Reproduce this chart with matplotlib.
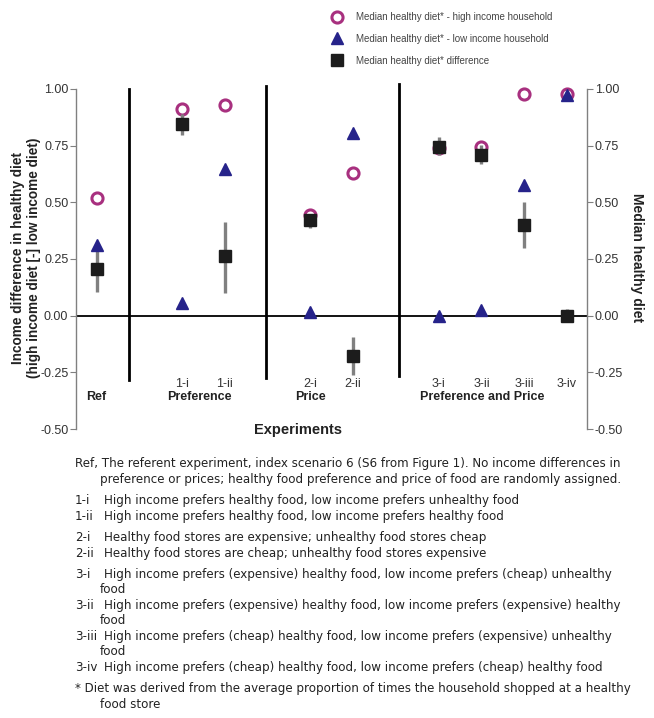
import matplotlib
matplotlib.use('Agg')
import matplotlib.pyplot as plt
import numpy as np

plt.rcParams['font.family'] = ['Liberation Sans', 'DejaVu Sans']

# experiments, positions on the x axis (groups separated by gaps)
exp_labels = ['Ref', '1-i', '1-ii', '2-i', '2-ii', '3-i', '3-ii', '3-iii', '3-iv']
exp_x = [0, 2, 3, 5, 6, 8, 9, 10, 11]

high_income = [0.52, 0.91, 0.93, 0.445, 0.63, 0.74, 0.745, 0.98, 0.98]
low_income = [0.31, 0.055, 0.645, 0.015, 0.805, 0.0, 0.025, 0.575, 0.975]
difference = [0.205, 0.845, 0.265, 0.42, -0.18, 0.745, 0.71, 0.40, 0.0]
diff_low = [0.105, 0.795, 0.10, 0.385, -0.26, 0.71, 0.67, 0.30, -0.03]
diff_high = [0.30, 0.89, 0.415, 0.45, -0.095, 0.79, 0.755, 0.50, 0.03]

group_names = ['Ref', 'Preference', 'Price', 'Preference and Price']
group_x = [0, 2.4, 5, 9.03]
dividers = [0.77, 3.97, 7.08]
divider_top = [1.0, 1.013, 1.022]
divider_bottom = [-0.284, -0.275, -0.266]

yticks = [1.0, 0.75, 0.5, 0.25, 0.0, -0.25, -0.5]

legend_labels = ['Median healthy diet* - high income household',
                 'Median healthy diet* - low income household',
                 'Median healthy diet* difference']

# (label, text, indent of text, gap before line: 1 normal, 2 new block)
notes = [
    ('', 'Ref, The referent experiment, index scenario 6 (S6 from Figure 1). No income differences in', 75, 0),
    ('', 'preference or prices; healthy food preference and price of food are randomly assigned.', 100, 1),
    ('1-i', 'High income prefers healthy food, low income prefers unhealthy food', 103.5, 2),
    ('1-ii', 'High income prefers healthy food, low income prefers healthy food', 103.5, 1),
    ('2-i', 'Healthy food stores are expensive; unhealthy food stores cheap', 103.5, 2),
    ('2-ii', 'Healthy food stores are cheap; unhealthy food stores expensive', 103.5, 1),
    ('3-i', 'High income prefers (expensive) healthy food, low income prefers (cheap) unhealthy', 103.5, 2),
    ('', 'food', 100, 1),
    ('3-ii', 'High income prefers (expensive) healthy food, low income prefers (expensive) healthy', 103.5, 1),
    ('', 'food', 100, 1),
    ('3-iii', 'High income prefers (cheap) healthy food, low income prefers (expensive) unhealthy', 103.5, 1),
    ('', 'food', 100, 1),
    ('3-iv', 'High income prefers (cheap) healthy food, low income prefers (cheap) healthy food', 103.5, 1),
    ('', '* Diet was derived from the average proportion of times the household shopped at a healthy', 75, 2),
    ('', 'food store', 100, 1),
]

purple = '#a8307f'
navy = '#26238a'
grey = '#808080'

fig = plt.figure(figsize=(6.54, 7.18), dpi=100)
ax = fig.add_axes([76 / 654, 1 - 429 / 718, 511 / 654, 340 / 718])
ax.set_xlim(-0.48, 11.47)
ax.set_ylim(-0.5, 1.0)

ax.axhline(0, color='black', lw=1.3, zorder=1)
for dx, t, b in zip(dividers, divider_top, divider_bottom):
    ax.plot([dx, dx], [b, t], color='black', lw=2, clip_on=False, zorder=1)

h1, = ax.plot(exp_x, high_income, 'o', ms=8, mfc='none', mec=purple, mew=2.2,
              clip_on=False, zorder=3)
ax.vlines(exp_x, diff_low, diff_high, color=grey, lw=2.4, zorder=4)
h2, = ax.plot(exp_x, low_income, '^', ms=8.5, color=navy, clip_on=False, zorder=5)
h3, = ax.plot(exp_x, difference, 's', ms=8.5, color='#1c1c1c', clip_on=False, zorder=6)

for lab, xx in zip(exp_labels[1:], exp_x[1:]):
    ax.text(xx, -0.30, lab, ha='center', va='center', fontsize=9, color='#333333')
for g, gx in zip(group_names, group_x):
    ax.text(gx, -0.357, g, ha='center', va='center', fontsize=9, fontweight='bold', color='#222222')
ax.text(4.72, -0.505, 'Experiments', ha='center', va='center', fontsize=10.5, fontweight='bold',
        color='#222222')

for s in ['top', 'bottom']:
    ax.spines[s].set_visible(False)
for s in ['left', 'right']:
    ax.spines[s].set_color(grey)
    ax.spines[s].set_linewidth(1)
ax.set_xticks([])
ax.set_yticks(yticks)
ax.set_yticklabels(['%.2f' % v for v in yticks])
ax.tick_params(axis='y', which='both', left=True, right=True, labelleft=True, labelright=True,
               color=grey, length=4, labelsize=9, labelcolor='#333333', pad=1.5)

fig.text(26 / 654, 1 - 258 / 718, 'Income difference in healthy diet\n(high income diet [-] low income diet)',
         rotation=90, ha='center', va='center', fontsize=9.8, fontweight='bold', linespacing=1.1,
         color='#222222')
fig.text(637 / 654, 1 - 258 / 718, 'Median healthy diet', rotation=270, ha='center', va='center',
         fontsize=10, fontweight='bold', color='#222222')

leg = fig.legend([h1, h2, h3], legend_labels, loc='upper left', bbox_to_anchor=(0.5, 0.983),
                 frameon=False, fontsize=7, handlelength=2.0, handletextpad=1.0,
                 labelspacing=1.2, borderpad=0, borderaxespad=0, numpoints=1)
for t in leg.get_texts():
    t.set_color('#444444')

# explanatory notes under the chart
y = 464
step = 15.5
gap = 21.3
for lab, desc, indent, kind in notes:
    if kind == 1:
        y += step
    elif kind == 2:
        y += gap
    if lab:
        fig.text(75 / 654, 1 - y / 718, lab, ha='left', va='center', fontsize=8.6,
                 family='DejaVu Sans', color='#222222')
    fig.text(indent / 654, 1 - y / 718, desc, ha='left', va='center', fontsize=8.6,
             family='DejaVu Sans', color='#222222')

fig.savefig('out.png', dpi=100)
